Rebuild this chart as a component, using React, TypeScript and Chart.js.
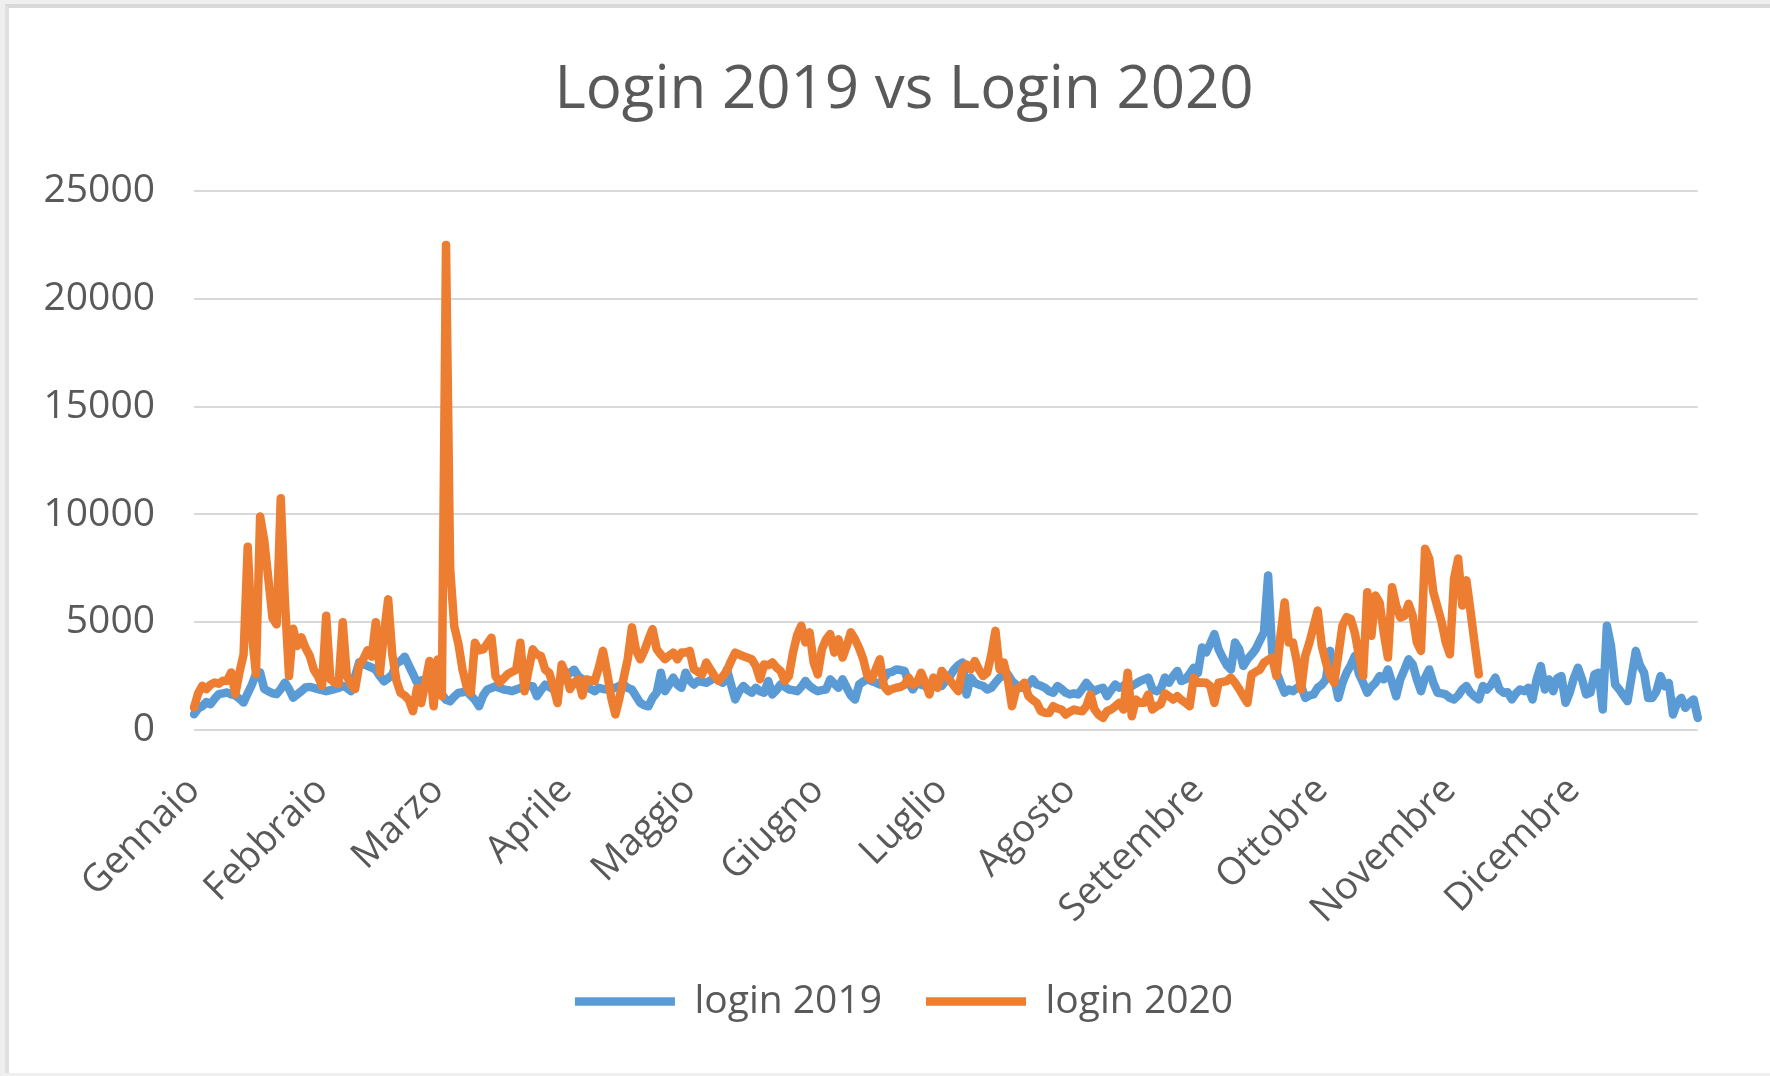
import React, { useEffect, useRef } from 'react';
import { Chart, registerables } from 'chart.js';

Chart.register(...registerables);

const TITLE = 'Login 2019 vs Login 2020';
const SERIES_NAMES = ['login 2019', 'login 2020'];
const MONTHS = ['Gennaio', 'Febbraio', 'Marzo', 'Aprile', 'Maggio', 'Giugno', 'Luglio', 'Agosto', 'Settembre', 'Ottobre', 'Novembre', 'Dicembre'];
const MONTH_START_DAY = [0, 31, 59, 90, 120, 151, 181, 212, 243, 273, 304, 334];
const DAY_COUNT = 365;
const Y_MIN = 0;
const Y_MAX = 25000;
const Y_STEP = 5000;

const LOGIN_2019 = [
  730, 1000, 1100, 1300, 1200, 1450, 1660, 1700, 1740, 1650,
  1600, 1450, 1270, 1700, 2100, 2600, 2670, 1900, 1800, 1700,
  1660, 1900, 2200, 1900, 1500, 1650, 1800, 1970, 2000, 1950,
  1900, 1850, 1800, 1850, 1900, 1950, 2050, 1950, 1800, 2500,
  3140, 3050, 2980, 2900, 2800, 2500, 2260, 2400, 2570, 3100,
  3200, 3400, 3000, 2600, 2200, 2300, 2340, 2100, 1900, 1750,
  1650, 1400, 1330, 1550, 1720, 1750, 1800, 1600, 1400, 1100,
  1600, 1880, 1950, 2030, 1950, 1880, 1850, 1800, 1880, 1950,
  2000, 2050, 2030, 1570, 1850, 2100, 2000, 1880, 2100, 2340,
  2500, 2650, 2800, 2500, 2350, 2040, 1900, 1800, 1960, 1900,
  1880, 1920, 1960, 2050, 2110, 1950, 1880, 1570, 1260, 1150,
  1100, 1490, 1730, 2660, 1800, 2100, 2430, 2100, 1960, 2660,
  2300, 2110, 2270, 2230, 2190, 2300, 2430, 2300, 2190, 2800,
  2100, 1420, 1800, 2040, 1850, 1730, 1960, 1800, 1730, 2270,
  1650, 1850, 2110, 2000, 1880, 1850, 1800, 2000, 2270, 2040,
  1900, 1800, 1850, 1880, 2350, 2150, 1960, 2350, 1960, 1600,
  1410, 2110, 2250, 2350, 2270, 2200, 2110, 2400, 2660, 2700,
  2810, 2780, 2740, 2200, 1880, 2190, 2100, 2040, 2100, 2190,
  2100, 2040, 2300, 2500, 2810, 3000, 3130, 1650, 2430, 2190,
  2100, 2040, 1880, 1960, 2200, 2430, 2500, 2580, 2270, 2100,
  1960, 1960, 2100, 2350, 2110, 2050, 1960, 1800, 1730, 2040,
  1900, 1730, 1650, 1700, 1650, 1900, 2190, 1950, 1800, 1900,
  1960, 1570, 1850, 2110, 1960, 2050, 2190, 2040, 2150, 2270,
  2350, 2430, 1880, 1800, 1900, 2430, 2190, 2500, 2740, 2270,
  2350, 2600, 2890, 2650, 3830, 3600, 4000, 4450, 3750, 3360,
  3000, 2810, 4060, 3750, 2970, 3280, 3500, 3750, 4140, 4530,
  7170, 3600, 2700, 2190, 1730, 1880, 1800, 1950, 2040, 1490,
  1600, 1650, 1960, 2100, 2350, 3670, 2400, 1490, 2190, 2660,
  3000, 3440, 2600, 2190, 1730, 2000, 2190, 2500, 2350, 2810,
  2200, 1570, 2350, 2800, 3280, 3040, 2350, 1800, 2430, 2810,
  2190, 1730, 1700, 1650, 1490, 1420, 1600, 1880, 2040, 1730,
  1550, 1420, 2040, 1880, 2100, 2430, 1880, 1730, 1750, 1420,
  1700, 1880, 1800, 1960, 1420, 2350, 2970, 1880, 2350, 1800,
  2400, 2500, 1260, 1730, 2400, 2890, 2350, 1650, 1730, 2580,
  2660, 950, 4840, 3900, 2110, 1880, 1600, 1340, 2500, 3670,
  3000, 2660, 1490, 1490, 1800, 2500, 2030, 2180, 720, 1260,
  1490, 1030, 1260, 1420, 560,
];

const LOGIN_2020 = [
  1040, 1700, 2050, 1900, 2100, 2200, 2150, 2280, 2280, 2670,
  1660, 2670, 3500, 8500, 4500, 2600, 9900, 8800, 7000, 5200,
  4900, 10750, 6000, 2500, 4700, 3900, 4300, 3800, 3450, 2800,
  2500, 2050, 5300, 2360, 2200, 2130, 5000, 2500, 2100, 1900,
  3000, 3300, 3700, 3400, 5000, 2670, 4500, 6060, 3500, 2300,
  1720, 1600, 1400, 870, 1950, 1250, 2200, 3200, 1100, 3270,
  1570, 22500, 7500, 4800, 4000, 2800, 2000, 1720, 4050, 3700,
  3740, 4000, 4280, 2500, 2200, 2400, 2600, 2700, 2800, 4050,
  1800, 2800, 3740, 3500, 3430, 2800, 2650, 2000, 1250, 3040,
  2600, 1900, 2200, 2350, 1600, 2350, 2300, 2270, 2900, 3670,
  2650, 1500, 720, 1500, 2400, 3300, 4760, 3700, 3280, 3670,
  4200, 4680, 3750, 3500, 3280, 3450, 3590, 3280, 3590, 3600,
  3670, 2810, 2700, 2580, 3130, 2800, 2500, 2270, 2500, 2740,
  3200, 3590, 3500, 3420, 3350, 3280, 2970, 2350, 3040, 3000,
  3130, 2900, 2740, 2270, 2500, 3590, 4400, 4840, 4060, 4530,
  3130, 2580, 3750, 4200, 4450, 3590, 4210, 3360, 3900, 4530,
  4210, 3800, 3280, 2500, 2350, 2800, 3280, 2040, 1800, 1900,
  1960, 2000, 2100, 2430, 2100, 2190, 2660, 2200, 1650, 2430,
  1960, 2740, 2500, 2300, 2040, 1800, 2810, 3040, 2810, 3200,
  2810, 2500, 2660, 3500, 4600, 2810, 3130, 2350, 1100, 1880,
  2000, 2190, 1570, 1400, 1260, 870, 800, 790, 1100, 1000,
  950, 720, 850, 950, 900, 870, 1100, 1650, 950, 700,
  560, 870, 950, 1100, 1260, 950, 2660, 640, 1410, 1260,
  1260, 1650, 950, 1100, 1200, 1700, 1570, 1410, 1570, 1400,
  1260, 1100, 2430, 2190, 2200, 2190, 2040, 1260, 2190, 2230,
  2270, 2430, 2190, 1900, 1570, 1260, 2580, 2700, 2800, 3130,
  3250, 3360, 2500, 4370, 5920, 4060, 4060, 3130, 1880, 3440,
  4060, 4800, 5540, 3900, 3130, 2500, 2190, 3500, 4840, 5230,
  5150, 4500, 3440, 2500, 6390, 4370, 6240, 5900, 4500, 3360,
  6620, 5770, 5220, 5300, 5850, 5300, 4060, 3670, 8410, 7950,
  6390, 5700, 5000, 4060, 3510, 7010, 7950, 5770, 6940, 5500,
  4000, 2580,
];

const COLORS = ['#5B9BD5', '#ED7D31'];
const TEXT_COLOR = '#595959';
const GRID_COLOR = '#d9d9d9';
const FONT = '"Open Sans", "DejaVu Sans", sans-serif';

export default function App() {
  const canvasRef = useRef<HTMLCanvasElement | null>(null);

  useEffect(() => {
    const canvas = canvasRef.current;
    if (!canvas) return;
    const labels = Array.from({ length: DAY_COUNT }, (_, i) => String(i + 1));
    const lineStyle = {
      borderWidth: 8.5,
      pointRadius: 0,
      tension: 0,
      borderCapStyle: 'round',
      borderJoinStyle: 'round',
    };
    const chart = new Chart(canvas, {
      type: 'line',
      data: {
        labels,
        datasets: [
          {
            label: SERIES_NAMES[0],
            data: LOGIN_2019,
            borderColor: COLORS[0],
            backgroundColor: COLORS[0],
            order: 2,
            ...lineStyle,
          },
          {
            label: SERIES_NAMES[1],
            data: LOGIN_2020,
            borderColor: COLORS[1],
            backgroundColor: COLORS[1],
            order: 1,
            ...lineStyle,
          },
        ],
      },
      options: {
        responsive: false,
        devicePixelRatio: 1,
        animation: false,
        events: [],
        layout: { padding: { left: 40, right: 0, top: 0, bottom: 45 } },
        plugins: {
          tooltip: { enabled: false },
          title: {
            display: true,
            text: TITLE,
            color: TEXT_COLOR,
            font: { family: FONT, size: 60, weight: 'normal' },
            padding: { top: 55, bottom: 64 },
          },
          legend: {
            display: true,
            position: 'bottom',
            labels: {
              usePointStyle: true,
              pointStyle: 'line',
              pointStyleWidth: 100,
              color: TEXT_COLOR,
              font: { family: FONT, size: 39 },
              padding: 44,
              sort: (a: any, b: any) => a.datasetIndex - b.datasetIndex,
            },
          },
        },
        scales: {
          x: {
            type: 'category',
            grid: { display: false, drawTicks: false },
            border: { display: false },
            ticks: {
              autoSkip: false,
              minRotation: 45,
              maxRotation: 45,
              padding: 38,
              color: TEXT_COLOR,
              font: { family: FONT, size: 38 },
              callback: (_value: any, index: number) => {
                const k = MONTH_START_DAY.indexOf(index);
                return k >= 0 ? MONTHS[k] : '';
              },
            },
            afterFit: (scale: any) => {
              scale.height = 208;
            },
          },
          y: {
            position: 'left',
            min: Y_MIN,
            max: Y_MAX,
            grid: { color: GRID_COLOR, lineWidth: 2, drawTicks: false },
            border: { display: false },
            ticks: {
              stepSize: Y_STEP,
              padding: 39,
              color: TEXT_COLOR,
              font: { family: FONT, size: 39 },
              callback: (value: any) => String(value),
            },
            afterFit: (scale: any) => {
              scale.width = 154;
            },
          },
          yRightSpace: {
            type: 'linear',
            position: 'right',
            display: true,
            grid: { display: false, drawTicks: false },
            border: { display: false },
            ticks: { display: false },
            afterFit: (scale: any) => {
              scale.width = 69;
            },
          },
        },
      },
    } as any);
    return () => chart.destroy();
  }, []);

  return (
    <div style={{ position: 'absolute', left: 0, top: 0, width: 1770, height: 1076, background: '#efefef', overflow: 'hidden' }}>
      <div
        style={{
          position: 'absolute',
          left: 5,
          top: 4,
          width: 1765,
          height: 1069,
          background: '#ffffff',
          borderTop: '4px solid #d9d9d9',
          borderLeft: '4px solid #e0e0e0',
          boxSizing: 'border-box',
        }}
      />
      <canvas ref={canvasRef} width={1768} height={1076} style={{ position: 'absolute', left: 0, top: 0, width: 1768, height: 1076 }} />
    </div>
  );
}
